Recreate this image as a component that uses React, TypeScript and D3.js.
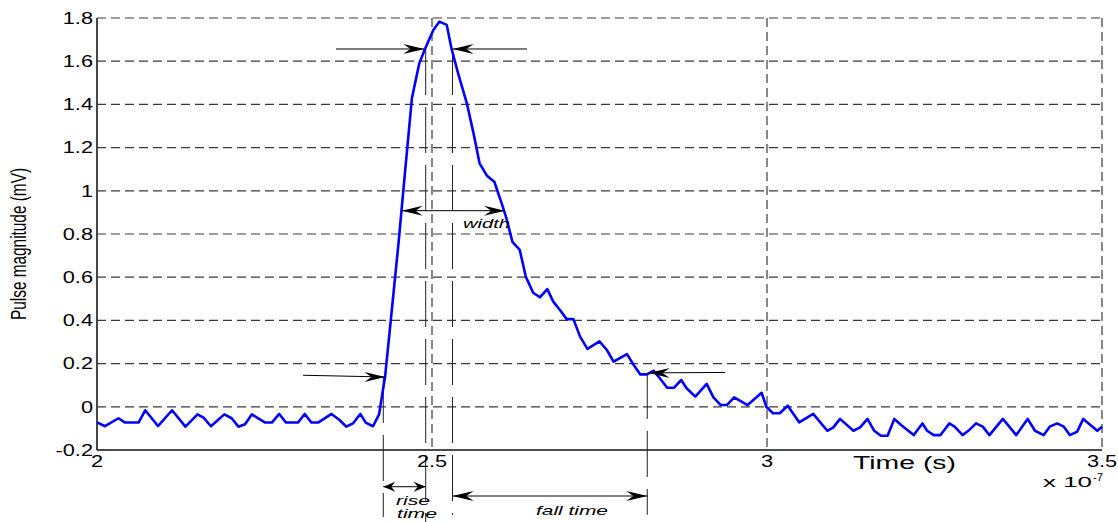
import React from "react";
import * as d3 from "d3";

// Time axis in units of 1e-7 s, pulse magnitude in mV
const times = [
  2.000, 2.012, 2.032, 2.042, 2.062, 2.072, 2.091, 2.112, 2.132, 2.150,
  2.159, 2.170, 2.190, 2.201, 2.211, 2.221, 2.231, 2.251, 2.261, 2.272,
  2.282, 2.300, 2.310, 2.320, 2.330, 2.350, 2.362, 2.372, 2.382, 2.393,
  2.401, 2.412, 2.421, 2.430, 2.440, 2.450, 2.460, 2.470, 2.481, 2.490,
  2.502, 2.511, 2.522, 2.529, 2.539, 2.552, 2.562, 2.571, 2.582, 2.593,
  2.604, 2.611, 2.620, 2.631, 2.640, 2.651, 2.661, 2.672, 2.681, 2.691,
  2.701, 2.711, 2.721, 2.732, 2.750, 2.761, 2.771, 2.791, 2.801, 2.811,
  2.821, 2.831, 2.840, 2.851, 2.861, 2.872, 2.880, 2.893, 2.910, 2.920,
  2.931, 2.940, 2.951, 2.971, 2.992, 2.999, 3.009, 3.019, 3.031, 3.048,
  3.069, 3.090, 3.099, 3.109, 3.129, 3.139, 3.150, 3.160, 3.170, 3.180,
  3.190, 3.200, 3.219, 3.232, 3.239, 3.249, 3.259, 3.272, 3.280, 3.292,
  3.302, 3.312, 3.322, 3.332, 3.352, 3.372, 3.389, 3.400, 3.413, 3.422,
  3.433, 3.443, 3.452, 3.463, 3.472, 3.493, 3.500,
];
const pulse = [
  -0.072, -0.090, -0.053, -0.073, -0.073, -0.016, -0.089, -0.016, -0.092, -0.035,
  -0.050, -0.090, -0.035, -0.053, -0.092, -0.081, -0.035, -0.073, -0.073, -0.033,
  -0.073, -0.073, -0.033, -0.073, -0.073, -0.033, -0.061, -0.092, -0.077, -0.033,
  -0.073, -0.090, -0.035, 0.140, 0.447, 0.757, 1.096, 1.428, 1.590, 1.660,
  1.744, 1.783, 1.768, 1.660, 1.544, 1.405, 1.266, 1.127, 1.070, 1.042,
  0.942, 0.873, 0.764, 0.726, 0.602, 0.528, 0.507, 0.545, 0.487, 0.448,
  0.406, 0.406, 0.325, 0.268, 0.303, 0.263, 0.209, 0.244, 0.194, 0.150,
  0.150, 0.167, 0.132, 0.088, 0.088, 0.124, 0.086, 0.047, 0.106, 0.044,
  0.008, 0.008, 0.044, 0.008, 0.065, 0.000, -0.030, -0.030, 0.005, -0.072,
  -0.033, -0.111, -0.095, -0.056, -0.111, -0.095, -0.056, -0.111, -0.134, -0.134,
  -0.056, -0.084, -0.131, -0.077, -0.111, -0.131, -0.131, -0.077, -0.092, -0.131,
  -0.107, -0.077, -0.092, -0.131, -0.056, -0.131, -0.056, -0.111, -0.131, -0.092,
  -0.077, -0.092, -0.131, -0.115, -0.056, -0.111, -0.092,
];

const yTicks = [-0.2, 0, 0.2, 0.4, 0.6, 0.8, 1, 1.2, 1.4, 1.6, 1.8];
const yTickLabels = ["-0.2", "0", "0.2", "0.4", "0.6", "0.8", "1", "1.2", "1.4", "1.6", "1.8"];
const xTicks = [2, 2.5, 3, 3.5];
const xTickLabels = ["2", "2.5", "3", "3.5"];
const yGrid = [0, 0.2, 0.4, 0.6, 0.8, 1, 1.2, 1.4, 1.6, 1.8];
const xGrid = [2.5, 3, 3.5];

// Annotation markers (time, level) in data units
const riseStart = 2.4273;
const riseEnd = 2.4906;
const fallStart = 2.5306;
const fallEnd = 2.8213;
const level90 = 1.6565;
const level50 = 0.908;
const level10 = 0.138;

const W = 1118;
const H = 522;
const FONT = "'Liberation Sans', Arial, Helvetica, sans-serif";
const SX = 1.36;

export default function App() {
  const x = d3.scaleLinear().domain([2, 3.5]).range([97, 1102]);
  const y = d3.scaleLinear().domain([-0.2, 1.8]).range([450, 18]);

  const pts: [number, number][] = times.map((t, i) => [t, pulse[i]]);
  const line = d3
    .line<[number, number]>()
    .x((d) => x(d[0]))
    .y((d) => y(d[1]));

  const head = (tx: number, ty: number, dir: number, L = 21, Wd = 5) => {
    const p = d3.path();
    p.moveTo(tx, ty);
    p.lineTo(tx - dir * L, ty - Wd);
    p.lineTo(tx - dir * L * 0.66, ty);
    p.lineTo(tx - dir * L, ty + Wd);
    p.closePath();
    return p.toString();
  };

  type Arrow = { t1: number; v1: number; t2: number; v2: number; both: boolean; L?: number };
  const arrows: Arrow[] = [
    { t1: 2.3567, v1: level90, t2: 2.4885, v2: level90, both: false },
    { t1: 2.6418, v1: level90, t2: 2.5306, v2: level90, both: false },
    { t1: 2.4548, v1: level50, t2: 2.609, v2: level50, both: true },
    { t1: 2.3075, v1: 0.146, t2: 2.4303, v2: level10, both: false },
    { t1: 2.9373, v1: 0.159, t2: 2.8235, v2: 0.157, both: false },
    { t1: riseStart, v1: -0.37, t2: riseEnd, v2: -0.37, both: true, L: 12 },
    { t1: fallStart, v1: -0.413, t2: fallEnd, v2: -0.413, both: true },
  ];

  const vlines = [
    { t: riseStart, v1: level10, v2: -0.51 },
    { t: riseEnd, v1: level90, v2: -0.54 },
    { t: fallStart, v1: level90, v2: -0.5 },
    { t: fallEnd, v1: 0.157, v2: -0.5 },
  ];

  const stretched = (
    key: string,
    px: number,
    py: number,
    txt: string,
    size: number,
    anchor: string,
    sx = SX
  ) => (
    <text
      key={key}
      transform={`translate(${px},${py}) scale(${sx},1)`}
      textAnchor={anchor}
      fontSize={size}
      fontFamily={FONT}
      fill="#000"
    >
      {txt}
    </text>
  );

  return (
    <svg
      width={W}
      height={H}
      style={{ position: "absolute", left: 0, top: 0, background: "#fff" }}
    >
      <rect x={0} y={0} width={W} height={H} fill="#fff" />
      {/* grid */}
      {yGrid.map((v) => (
        <line
          key={"hg" + v}
          x1={x(2)}
          x2={x(3.5)}
          y1={y(v)}
          y2={y(v)}
          stroke="#3a3a3a"
          strokeWidth={1.2}
          strokeDasharray="9,5"
        />
      ))}
      {xGrid.map((t) => (
        <line
          key={"vg" + t}
          x1={x(t)}
          x2={x(t)}
          y1={y(1.8)}
          y2={y(-0.2)}
          stroke="#3a3a3a"
          strokeWidth={1.2}
          strokeDasharray="9,5"
        />
      ))}
      {/* axes */}
      <line x1={x(2)} x2={x(2)} y1={y(1.8)} y2={y(-0.2)} stroke="#333" strokeWidth={1.8} />
      <line x1={x(2)} x2={x(3.5)} y1={y(-0.2)} y2={y(-0.2)} stroke="#111" strokeWidth={1.4} />

      {/* annotation vertical lines */}
      {vlines.map((l, i) => (
        <line
          key={"vl" + i}
          x1={x(l.t)}
          x2={x(l.t)}
          y1={y(l.v1)}
          y2={y(l.v2)}
          stroke="#222"
          strokeWidth={1}
          strokeDasharray="46,12"
        />
      ))}

      {/* signal */}
      <path d={line(pts) || ""} fill="none" stroke="#0000ff" strokeWidth={2.6} strokeLinejoin="round" />

      {/* arrows */}
      {arrows.map((a, i) => {
        const x1 = x(a.t1), y1 = y(a.v1), x2 = x(a.t2), y2 = y(a.v2);
        const dir = Math.sign(x2 - x1);
        const L = a.L ?? 21;
        return (
          <g key={"ar" + i}>
            <line x1={x1} y1={y1} x2={x2} y2={y2} stroke="#000" strokeWidth={1} />
            <path d={head(x2, y2, dir, L)} fill="#000" />
            {a.both && <path d={head(x1, y1, -dir, L)} fill="#000" />}
          </g>
        );
      })}

      {/* tick labels */}
      {yTicks.map((v, i) => stretched("yt" + i, 93, y(v) + 5.8, yTickLabels[i], 16, "end"))}
      {xTicks.map((t, i) => stretched("xt" + i, x(t), 467, xTickLabels[i], 16, "middle"))}

      {/* axis labels */}
      <text x={853} y={469} fontSize={18} fontFamily={FONT} textLength={103} lengthAdjust="spacingAndGlyphs">
        Time (s)
      </text>
      <text x={1043} y={487} fontSize={15} fontFamily={FONT} textLength={49} lengthAdjust="spacingAndGlyphs">
        x 10
      </text>
      <text x={1093} y={481} fontSize={11} fontFamily={FONT} textLength={10} lengthAdjust="spacingAndGlyphs">
        -7
      </text>
      <text
        transform="translate(26,244) rotate(-90) scale(1,1.6)"
        textAnchor="middle"
        fontSize={13.5}
        fontFamily={FONT}
        textLength={152}
        lengthAdjust="spacingAndGlyphs"
      >
        Pulse magnitude (mV)
      </text>

      {/* annotation labels */}
      <text x={x(2.5463)} y={y(0.828)} fontSize={13} fontStyle="italic" fontFamily={FONT} textLength={47} lengthAdjust="spacingAndGlyphs">
        width
      </text>
      <text x={x(2.4463)} y={y(-0.455)} fontSize={13} fontStyle="italic" fontFamily={FONT} textLength={34} lengthAdjust="spacingAndGlyphs">
        rise
      </text>
      <text x={x(2.4478)} y={y(-0.515)} fontSize={13} fontStyle="italic" fontFamily={FONT} textLength={40} lengthAdjust="spacingAndGlyphs">
        time
      </text>
      <text x={x(2.6552)} y={y(-0.501)} fontSize={13} fontStyle="italic" fontFamily={FONT} textLength={72} lengthAdjust="spacingAndGlyphs">
        fall time
      </text>
    </svg>
  );
}
